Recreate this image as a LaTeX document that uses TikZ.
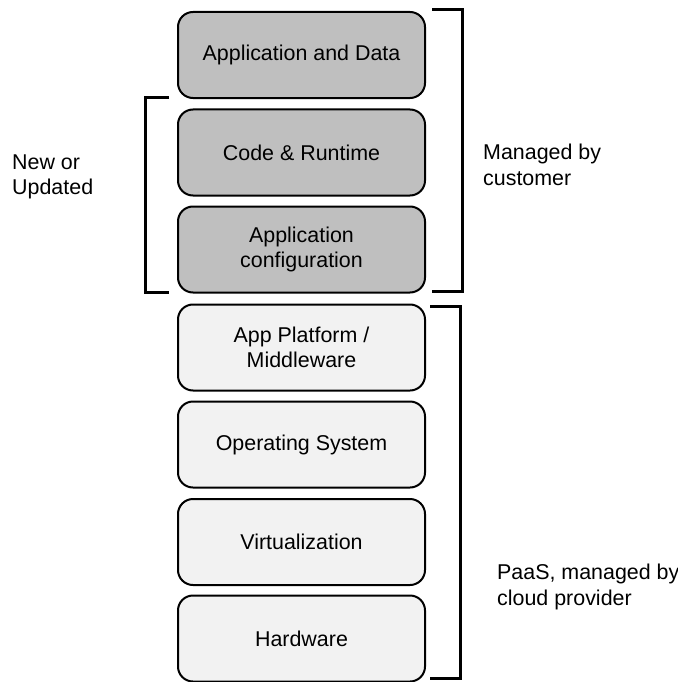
\documentclass[tikz,border=0pt]{standalone}
\usepackage{fontspec}
\setmainfont{Liberation Sans}
\definecolor{darkbox}{HTML}{BFBFBF}
\definecolor{lightbox}{HTML}{F2F2F2}
\tikzset{
  layer/.style={draw=black, line width=2bp, rounded corners=15bp, minimum width=247bp, minimum height=86bp, align=center, inner sep=0pt, font=\fontsize{21.5}{25.5}\selectfont},
  darklayer/.style={layer, fill=darkbox},
  lightlayer/.style={layer, fill=lightbox},
  brace/.style={draw=black, line width=3bp},
  sidelabel/.style={align=left, anchor=west, inner sep=0pt, font=\fontsize{21.5}{25.5}\selectfont}
}
\begin{document}
\begin{tikzpicture}[x=1bp,y=-1bp]
\useasboundingbox (0,0) rectangle (678,682);
\node[darklayer] (appdata) at (301.5,55) {Application and Data};
\node[darklayer] (code) at (301.5,152.5) {Code \& Runtime};
\node[darklayer] (config) at (301.5,249.5) {Application\\configuration};
\node[lightlayer] (platform) at (301.5,347.5) {App Platform /\\Middleware};
\node[lightlayer] (os) at (301.5,444.5) {Operating System};
\node[lightlayer] (virt) at (301.5,542) {Virtualization};
\node[lightlayer] (hw) at (301.5,638.5) {Hardware};
% brackets
\coordinate (r1a) at (432,10); \coordinate (r1b) at (462,10);
\coordinate (r1c) at (462,291); \coordinate (r1d) at (432,291);
\draw[brace] (r1a) -- (r1b) -- (r1c) -- (r1d);
\coordinate (l1a) at (169,98); \coordinate (l1b) at (145,98);
\coordinate (l1c) at (145,292); \coordinate (l1d) at (169,292);
\draw[brace] (l1a) -- (l1b) -- (l1c) -- (l1d);
\coordinate (r2a) at (430,306); \coordinate (r2b) at (460,306);
\coordinate (r2c) at (460,678); \coordinate (r2d) at (430,678);
\draw[brace] (r2a) -- (r2b) -- (r2c) -- (r2d);
% labels
\node[sidelabel] (newupd) at (12,177) {New or\\Updated};
\node[sidelabel] (cust) at (483,165) {Managed by\\customer};
\node[sidelabel] (paas) at (497,587) {PaaS, managed by\\cloud provider};
\end{tikzpicture}
\end{document}
